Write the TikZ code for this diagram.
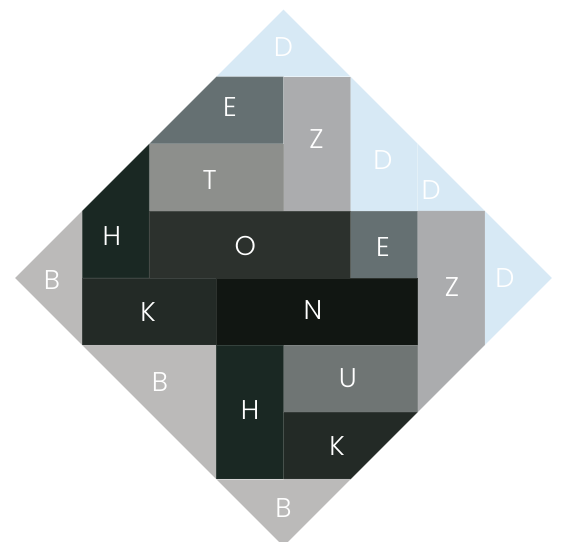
\documentclass[tikz,border=0pt]{standalone}
\usepackage{fontspec}
\setmainfont{Poppins Light}
\definecolor{cD}{HTML}{D7E9F5}
\definecolor{cE}{HTML}{657072}
\definecolor{cZ}{HTML}{ABACAE}
\definecolor{cT}{HTML}{8D8F8C}
\definecolor{cH}{HTML}{1A2823}
\definecolor{cO}{HTML}{2C312D}
\definecolor{cK}{HTML}{232A26}
\definecolor{cN}{HTML}{111612}
\definecolor{cU}{HTML}{6F7574}
\definecolor{cB}{HTML}{BBBAB9}
\tikzset{
  piece/.style={fill=#1, draw=white, draw opacity=0.12, line width=0.3pt},
  lbl/.style={text=white, font=\fontsize{11.5}{12}\selectfont, inner sep=0pt}
}
\begin{document}
\begin{tikzpicture}
\useasboundingbox (-4.225,-3.934) rectangle (4.135,4.143);
% pieces
\path[piece=cD] (0,4) -- (1,3) -- (-1,3) -- cycle;
\path[piece=cE] (-1,3) -- (0,3) -- (0,2) -- (-2,2) -- cycle;
\path[piece=cZ] (0,1) rectangle (1,3);
\path[piece=cT] (-2,1) rectangle (0,2);
\path[piece=cD] (1,3) -- (2,2) -- (2,1) -- (1,1) -- cycle;
\path[piece=cD] (2,2) -- (3,1) -- (2,1) -- cycle;
\path[piece=cD] (3,1) -- (4,0) -- (3,-1) -- cycle;
\path[piece=cH] (-2,2) -- (-2,0) -- (-3,0) -- (-3,1) -- cycle;
\path[piece=cO] (-2,0) rectangle (1,1);
\path[piece=cE] (1,0) rectangle (2,1);
\path[piece=cZ] (2,1) -- (3,1) -- (3,-1) -- (2,-2) -- cycle;
\path[piece=cB] (-4,0) -- (-3,1) -- (-3,-1) -- cycle;
\path[piece=cK] (-3,-1) rectangle (-1,0);
\path[piece=cN] (-1,-1) rectangle (2,0);
\path[piece=cB] (-3,-1) -- (-1,-1) -- (-1,-3) -- cycle;
\path[piece=cH] (-1,-3) rectangle (0,-1);
\path[piece=cU] (0,-2) rectangle (2,-1);
\path[piece=cK] (0,-2) -- (2,-2) -- (1,-3) -- (0,-3) -- cycle;
\path[piece=cB] (-1,-3) -- (1,-3) -- (0,-4) -- cycle;
% labels
\node[lbl] (d1) at (0,3.44) {D};
\node[lbl] (e1) at (-0.8,2.55) {E};
\node[lbl] (z1) at (0.49,2.07) {Z};
\node[lbl] (t1) at (-1.1,1.46) {T};
\node[lbl] (d2) at (1.48,1.76) {D};
\node[lbl] (d3) at (2.2,1.31) {D};
\node[lbl] (d4) at (3.3,0.0) {D};
\node[lbl] (h1) at (-2.56,0.62) {H};
\node[lbl] (o1) at (-0.57,0.47) {O};
\node[lbl] (e2) at (1.48,0.46) {E};
\node[lbl] (z2) at (2.51,-0.13) {Z};
\node[lbl] (b1) at (-3.45,-0.03) {B};
\node[lbl] (k1) at (-2.02,-0.5) {K};
\node[lbl] (n1) at (0.44,-0.47) {N};
\node[lbl] (b2) at (-1.84,-1.55) {B};
\node[lbl] (h2) at (-0.5,-1.97) {H};
\node[lbl] (u1) at (0.96,-1.49) {U};
\node[lbl] (k2) at (0.8,-2.5) {K};
\node[lbl] (b3) at (0,-3.43) {B};
\end{tikzpicture}
\end{document}
